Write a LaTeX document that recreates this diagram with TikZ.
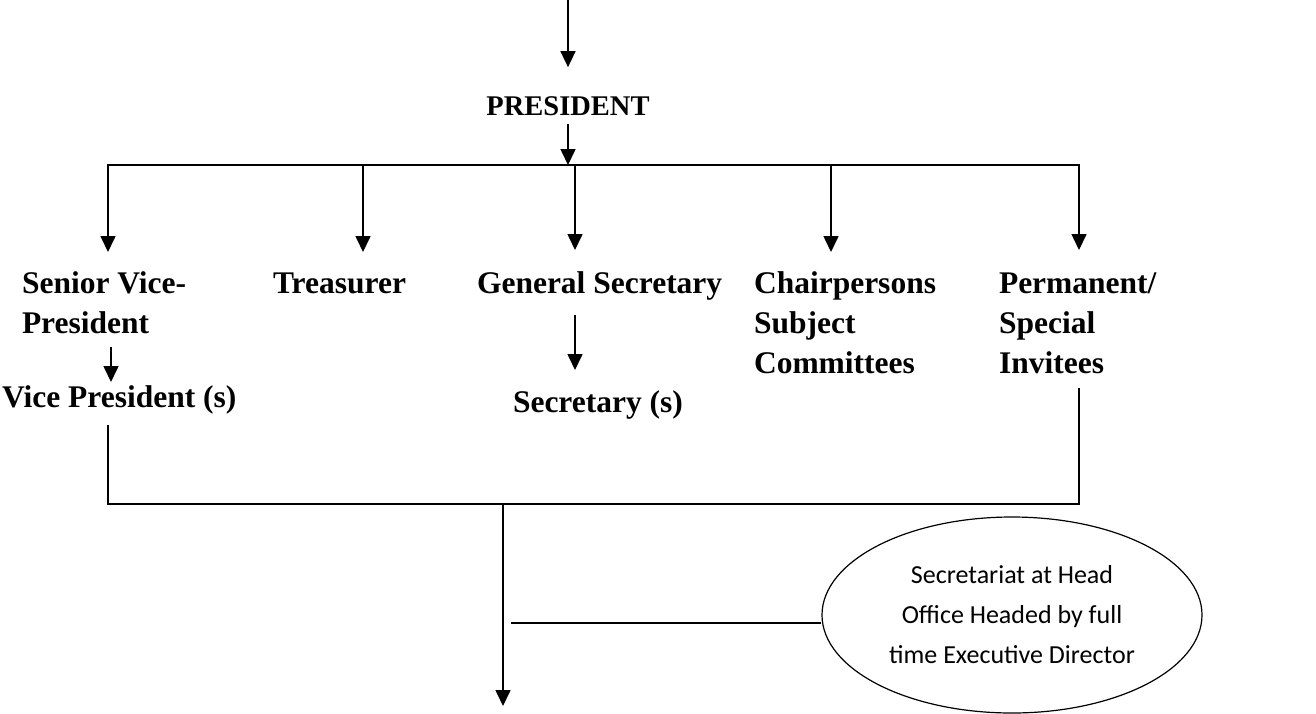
\documentclass[tikz,border=0pt]{standalone}
\usepackage{fontspec}
\setmainfont{Liberation Serif}
\newfontfamily\notefont{Carlito}
\usetikzlibrary{arrows.meta,shapes.geometric}

% left-aligned label whose base anchor sits on the first line
\newcommand{\orgstack}[1]{\begin{tabular}[t]{@{}l@{}}#1\end{tabular}}

\begin{document}
\begin{tikzpicture}[
    x=1pt, y=-1pt,
    line width=1.6pt,
    lbl/.style={font=\bfseries\fontsize{31.5}{40}\selectfont, inner sep=0pt, outer sep=0pt, anchor=base west},
    arr/.style={-{Triangle[width=15pt,length=16pt]}},
    note/.style={draw, ellipse, line width=1.2pt, minimum width=380pt, minimum height=196pt,
                 inner sep=0pt, align=center, font=\notefont\fontsize{26}{40}\selectfont},
  ]
  \useasboundingbox (0,0) rectangle (1316,713);

  % office bearers
  \node[lbl, anchor=base, font=\bfseries\fontsize{28.5}{40}\selectfont] (pres) at (568,115) {PRESIDENT};
  \node[lbl] (svp)   at (22,293)  {\orgstack{Senior Vice-\\President}};
  \node[lbl] (treas) at (273,293) {\orgstack{Treasurer}};
  \node[lbl] (gs)    at (477,293) {\orgstack{General Secretary}};
  \node[lbl] (chair) at (754,293) {\orgstack{Chairpersons\\Subject\\Committees}};
  \node[lbl] (perm)  at (999,293) {\orgstack{Permanent/\\Special\\Invitees}};
  \node[lbl] (vp)    at (2,407)   {\orgstack{Vice President (s)}};
  \node[lbl] (sec)   at (513,412) {\orgstack{Secretary (s)}};

  \node[note] (secr) at (1012,615) {Secretariat at Head\\Office Headed by full\\time Executive Director};

  % junction points
  \coordinate (top)  at (568,0);
  \coordinate (busL) at (107,165);
  \coordinate (busR) at (1080,165);
  \coordinate (b1) at (108,165);
  \coordinate (b2) at (363,165);
  \coordinate (b3) at (575,165);
  \coordinate (b4) at (831,165);
  \coordinate (b5) at (1079,165);
  \coordinate (low) at (503,504);
  \coordinate (tap) at (511,623);
  \coordinate (out) at (503,706);

  % into the president
  \draw[arr, shorten >=29pt] (top) -- (top |- pres.north);
  \draw[arr, shorten <=9pt] (pres.south) -- (pres.south |- busL);

  % distribution bus and branches
  \draw (busL) -- (busR);
  \draw[arr, shorten >=13pt] (b1) -- (b1 |- svp.north);
  \draw[arr, shorten >=13pt] (b2) -- (b2 |- treas.north);
  \draw[arr, shorten >=15pt] (b3) -- (b3 |- gs.north);
  \draw[arr, shorten >=13pt] (b4) -- (b4 |- chair.north);
  \draw[arr, shorten >=15pt] (b5) -- (b5 |- perm.north);

  % subordinate posts
  \draw[arr, shorten <=2pt, shorten >=-3pt]
    ([xshift=89pt]svp.south west) -- ([xshift=89pt]svp.south west |- vp.north);
  \draw[arr, shorten <=10pt, shorten >=14pt] (b3 |- gs.south) -- (b3 |- sec.north);

  % collecting line and outflow
  \draw[shorten <=6pt, shorten >=3pt]
    (b1 |- vp.south) -- (b1 |- low) -- (b5 |- low) -- (b5 |- perm.south);
  \draw[arr] (low) -- (out);
  \draw[line width=1.2pt] (tap) -- (tap -| secr.west);
\end{tikzpicture}
\end{document}
